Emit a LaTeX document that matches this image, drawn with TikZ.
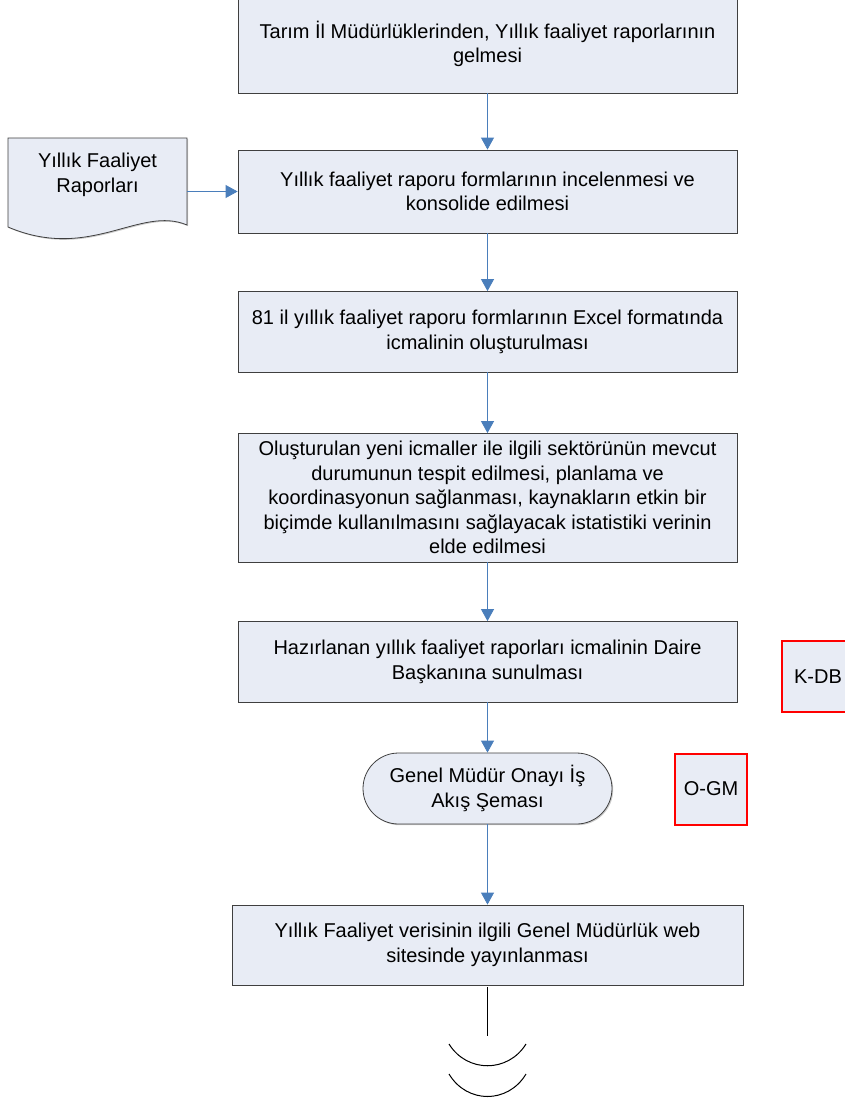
\documentclass[tikz,border=0pt]{standalone}
\usepackage{fontspec}
\setmainfont{Liberation Sans}
\usetikzlibrary{arrows.meta,shadows}
\definecolor{boxfill}{HTML}{E8ECF5}
\definecolor{flowblue}{HTML}{4A7EBB}
\definecolor{edgegray}{HTML}{3F3F3F}

\begin{document}
\begin{tikzpicture}[x=1pt,y=-1pt,>={Triangle[width=13pt,length=12pt]},
  every node/.style={font=\fontsize{20}{24.5}\selectfont,align=center,inner sep=0pt},
  stepbox/.style={draw=edgegray,fill=boxfill,line width=0.8pt,minimum width=499pt,
    drop shadow={shadow xshift=1.2pt,shadow yshift=-1.2pt,fill=black!40}},
  refbox/.style={draw=red,fill=boxfill,line width=2pt,minimum width=72pt,minimum height=71pt},
  flow/.style={->,flowblue,line width=0.8pt}]
\useasboundingbox (0,0) rectangle (845,1104);
\node[stepbox,minimum height=98pt] (b1) at (487.5,44) {Tarım İl Müdürlüklerinden, Yıllık faaliyet raporlarının\\gelmesi};
\node[stepbox,minimum height=83pt] (b2) at (487.5,191.5) {Yıllık faaliyet raporu formlarının incelenmesi ve\\konsolide edilmesi};
\node[stepbox,minimum height=80.5pt] (b3) at (487.5,331.75) {81 il yıllık faaliyet raporu formlarının Excel formatında\\icmalinin oluşturulması};
\node[stepbox,minimum height=128.5pt] (b4) at (487.5,497.75) {Oluşturulan yeni icmaller ile ilgili sektörünün mevcut\\durumunun tespit edilmesi, planlama ve\\koordinasyonun sağlanması, kaynakların etkin bir\\biçimde kullanılmasını sağlayacak istatistiki verinin\\elde edilmesi};
\node[stepbox,minimum height=80.5pt] (b5) at (487.5,661.75) {Hazırlanan yıllık faaliyet raporları icmalinin Daire\\Başkanına sunulması};
\node[stepbox,minimum width=249pt,minimum height=71pt,rounded corners=35.5pt] (onay) at (487.5,788.5) {Genel Müdür Onayı İş\\Akış Şeması};
\node[stepbox,minimum width=511pt,minimum height=80pt] (b6) at (487.5,945) {Yıllık Faaliyet verisinin ilgili Genel Müdürlük web\\sitesinde yayınlanması};
\node[refbox] (ogm) at (711,789) {O-GM};
\node[refbox] (kdb) at (818,676.5) {K-DB};
% document symbol
\draw[edgegray,fill=boxfill,line width=0.8pt,drop shadow={shadow xshift=1.2pt,shadow yshift=-1.2pt,fill=black!40}]
  (8,138) -- (187,138) -- (187,225) .. controls (140,205) and (90,262) .. (8,227) -- cycle;
\node[minimum width=179pt] (doc) at (97.5,175) {Yıllık Faaliyet\\Raporları};
\draw[flow] (doc.east |- b2.west) -- (b2.west);
\draw[flow] (b1) -- (b2);
\draw[flow] (b2) -- (b3);
\draw[flow] (b3) -- (b4);
\draw[flow] (b4) -- (b5);
\draw[flow] (b5) -- (onay);
\draw[flow] (onay) -- (b6);
% off-page end
\coordinate (fin) at (487.5,1036);
\draw[black,line width=1pt] ([yshift=-2pt]b6.south) -- (fin);
\draw[black,line width=1pt] (449,1044) .. controls (467,1073) and (508,1073) .. (526,1044);
\draw[black,line width=1pt] (449,1074) .. controls (467,1104) and (508,1104) .. (526,1074);
\end{tikzpicture}
\end{document}
